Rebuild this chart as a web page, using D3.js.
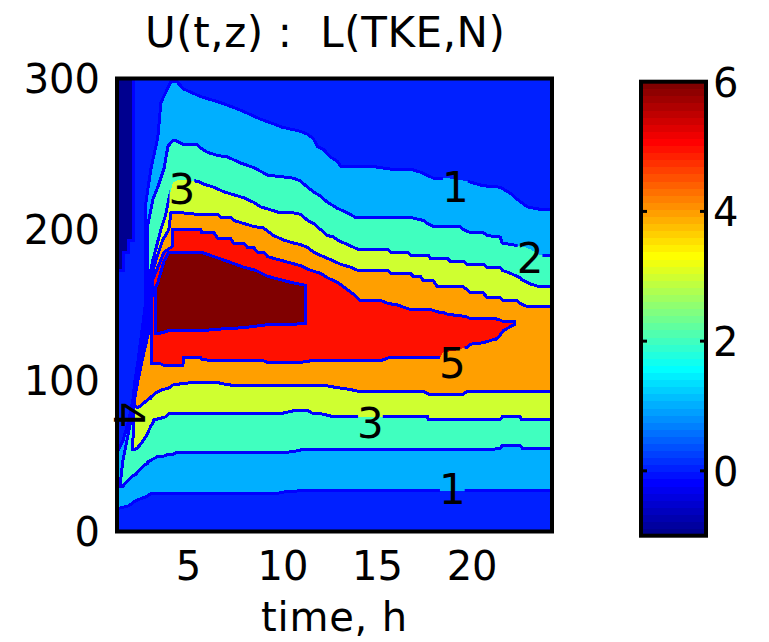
<!DOCTYPE html>
<html>
<head>
<meta charset="utf-8">
<script src="https://cdn.jsdelivr.net/npm/d3@7"></script>
<style>
  html, body { margin: 0; padding: 0; background: #fff; }
  svg { display: block; font-family: "DejaVu Sans", sans-serif; }
  .keep-spaces { white-space: pre; }
</style>
</head>
<body>
<svg id="chart" width="769" height="642"></svg>
<script>
// Contour levels of U (m/s) and the colour limits of the map
const levels = [-1, 0, 1, 2, 3, 4, 5, 6];
const colorLimits = [-1, 6];
const timeRange = [1.25, 24.25];     // hours
const heightRange = [0, 300];        // metres
const xTicks = [5, 10, 15, 20];
const yTicks = [0, 100, 200, 300];
const cbarTicks = [0, 2, 4, 6];

// Region where U >= level, one entry per time: [time h, lower height m, upper height m]
const uAbove0 = [
  [1.25,0,173],[1.62,0,173],[1.62,0,185],[1.88,0,185],[1.88,0,193],[2.14,0,193],
  [2.14,0,300],[24.25,0,300]
];
const uAbove1 = [
  [1.25,15,52],[1.56,16,60],[1.88,17,74],[2.09,19,87],[2.20,20,100],[2.36,21,113],
  [2.57,22,133],[2.78,23,153],[2.78,23,218],[3.04,25,240],[3.41,25,261],[3.57,25,284],
  [4.10,25,298],[4.41,25,298],[4.78,25,293],[5.68,25,288],[6.74,25,284],[7.79,25,279],
  [8.85,25,273],[9.74,25,269],[9.90,26,268],[10.96,27,265],[11.33,27,263],[11.64,27,260],
  [11.85,27,255],[12.17,27,253],[12.54,27,248],[12.91,27,245],[13.07,27,242],[14.65,27,242],
  [15.71,27,240],[16.76,27,240],[17.29,27,238],[17.98,27,234],[18.71,27,234],[19.77,27,232],
  [20.61,27,229],[21.51,27,228],[22.04,27,224],[22.41,27,220],[22.94,27,215],[23.78,27,213],
  [24.25,27,213]
];
const uAbove2 = [
  [1.46,30,36],[1.56,30,47],[1.77,33,60],[1.99,36,74],[2.12,37,87],[2.25,38,100],
  [2.46,41,113],[2.72,44,133],[2.86,45,153],[2.88,46,203],[3.15,48,220],[3.46,50,230],
  [3.73,50,240],[3.94,51,255],[4.20,51,259],[4.36,52,259],[4.78,52,256],[5.52,52,256],
  [5.68,52,254],[6.05,52,251],[6.58,52,249],[7.10,52,248],[7.79,52,244],[8.48,52,241],
  [9.22,52,236],[9.90,52,235],[10.59,53,234],[10.96,54,232],[11.33,54,228],[11.64,54,225],
  [12.01,54,222],[12.38,54,218],[12.91,54,214],[13.44,54,211],[13.86,54,208],[16.76,54,208],
  [17.45,54,206],[17.66,54,204],[17.98,54,202],[19.40,54,202],[19.56,54,200],[19.93,54,198],
  [20.61,54,198],[20.82,54,196],[21.51,55,195],[21.62,57,191],[22.57,57,189],[22.68,55,189],
  [23.09,55,187],[23.62,55,183],[24.25,55,183]
];
const uAbove3 = [
  [2.09,54,60],[2.14,54,74],[2.14,54,87],[2.30,55,100],[2.51,58,113],[2.83,64,133],
  [2.94,67,153],[2.94,67,167],[3.04,70,173],[3.15,72,180],[3.20,74,182],[3.57,75,200],
  [3.83,76,210],[3.99,78,220],[4.20,78,231],[4.52,78,233],[5.52,78,232],[5.84,78,230],
  [6.37,78,228],[6.89,78,225],[7.42,78,223],[7.95,78,221],[8.48,78,218],[8.85,78,215],
  [9.37,78,213],[9.90,78,211],[10.59,80,211],[10.96,80,210],[11.33,80,206],[11.64,78,204],
  [12.01,78,200],[12.38,77,196],[12.70,76,195],[12.91,76,193],[13.44,76,190],[13.97,76,187],
  [15.55,76,187],[15.71,76,185],[16.60,76,185],[16.76,76,183],[17.66,76,183],[17.71,74,183],
  [17.82,74,181],[18.71,74,181],[18.87,74,179],[19.56,74,179],[19.77,74,177],[20.61,74,177],
  [20.82,74,175],[21.51,74,175],[21.62,76,173],[22.04,76,171],[22.41,76,169],[22.57,76,168],
  [22.62,74,167],[23.09,74,164],[23.62,74,162],[24.25,74,162]
];
const uAbove4 = [
  [2.17,83,87],[2.36,82,100],[2.57,84,113],[2.94,88,133],[3.02,88,153],[3.04,89,167],
  [3.31,92,180],[3.67,94,193],[3.99,95,200],[4.10,96,211],[4.20,97,211],[4.73,98,211],
  [5.52,99,210],[6.58,99,210],[6.74,98,208],[7.26,97,208],[7.42,97,206],[7.95,97,204],
  [8.48,97,202],[9.00,97,201],[9.53,97,196],[10.06,97,193],[10.59,97,191],[10.96,97,190],
  [11.33,97,188],[11.64,97,185],[12.17,97,182],[12.54,96,180],[13.07,95,177],[13.60,94,175],
  [13.97,93,173],[15.55,93,173],[15.71,93,171],[16.76,93,171],[16.92,93,169],[17.29,93,169],
  [17.45,93,166],[17.71,91,166],[17.98,91,166],[18.19,91,162],[19.56,91,162],[19.77,93,160],
  [19.93,93,158],[20.61,93,158],[20.82,93,155],[21.51,93,155],[21.67,93,153],[22.41,93,153],
  [22.57,93,151],[22.94,93,149],[24.25,93,149]
];
const uAbove5 = [
  [3.09,111,153],[3.15,111,167],[3.57,111,180],[3.73,110,185],[4.20,110,189],[4.20,110,200],
  [4.73,110,200],[4.78,115,200],[5.68,115,200],[5.73,114,198],[6.37,113,198],[6.58,113,194],
  [7.26,113,194],[7.42,113,191],[7.95,113,191],[8.16,113,188],[8.48,113,188],[8.69,113,185],
  [9.00,113,185],[9.22,112,182],[10.96,112,176],[11.48,113,173],[12.01,113,171],[12.38,113,168],
  [12.91,113,165],[13.44,113,160],[13.76,113,157],[14.12,113,153],[15.18,113,153],[15.60,115,151],
  [16.08,115,150],[16.76,115,147],[17.82,115,147],[18.34,115,145],[18.50,119,145],[18.71,119,144],
  [19.24,120,143],[19.40,121,143],[19.77,122,142],[19.93,124,141],[20.61,125,141],[21.14,127,141],
  [21.25,127,141],[21.51,130,140],[21.67,133,139],[22.25,137,139]
];
const uAbove6 = [
  [3.31,131,162],[3.41,131,165],[3.73,132,179],[3.99,133,185],[4.20,133,185],[5.68,133,185],
  [6.63,134,181],[7.95,135,175],[8.58,136,173],[9.22,137,169],[10.43,137,165],[11.22,138,163]
];

// Inline contour labels: [time h, height m, text, rotation deg]
const contourLabels = [
  [19.14, 228, "1", 0],
  [23.09, 181, "2", 0],
  [4.68, 227, "3", 0],
  [18.98, 112, "5", 0],
  [14.65, 72, "3", 0],
  [18.98, 28, "1", 0],
  [1.90, 77, "4", 90]
];

// ---- jet colormap, 64 entries ----
function jet64() {
  const n = 64, m = 16, u = [];
  for (let i = 1; i <= m; i++) u.push(i / m);
  for (let i = 0; i < m - 1; i++) u.push(1);
  for (let i = m; i >= 1; i--) u.push(i / m);
  const r = new Array(n).fill(0), g = new Array(n).fill(0), b = new Array(n).fill(0);
  u.forEach((v, j) => {
    const gi = 8 + j;
    if (gi < n) g[gi] = v;
    if (gi + m < n) r[gi + m] = v;
    if (gi - m >= 0 && gi - m < n) b[gi - m] = v;
  });
  return d3.range(n).map(i => d3.rgb(r[i] * 255, g[i] * 255, b[i] * 255).formatHex());
}
const jet = jet64();
const colorFor = v => {
  const t = (v - colorLimits[0]) / (colorLimits[1] - colorLimits[0]);
  return jet[Math.max(0, Math.min(63, Math.floor(t * 64)))];
};

const svg = d3.select("#chart");
const x = d3.scaleLinear().domain(timeRange).range([117, 552]);
const y = d3.scaleLinear().domain(heightRange).range([531.5, 78.5]);

const defs = svg.append("defs");
defs.append("clipPath").attr("id", "plotClip")
  .append("rect")
  .attr("x", x(timeRange[0])).attr("y", y(heightRange[1]))
  .attr("width", x(timeRange[1]) - x(timeRange[0]))
  .attr("height", y(heightRange[0]) - y(heightRange[1]));

const plot = svg.append("g").attr("clip-path", "url(#plotClip)");

// lowest band (U < 0)
plot.append("rect")
  .attr("x", x(timeRange[0])).attr("y", y(heightRange[1]))
  .attr("width", x(timeRange[1]) - x(timeRange[0]))
  .attr("height", y(heightRange[0]) - y(heightRange[1]))
  .attr("fill", colorFor(levels[0]));

const regions = [uAbove0, uAbove1, uAbove2, uAbove3, uAbove4, uAbove5, uAbove6];
const area = d3.area()
  .x(d => x(d[0]))
  .y0(d => y(d[1]))
  .y1(d => y(d[2]));

plot.selectAll("path.band")
  .data(regions)
  .join("path")
  .attr("class", "band")
  .attr("d", d => area(d))
  .attr("fill", (d, i) => colorFor(levels[i + 1]))
  .attr("shape-rendering", "crispEdges");

// contour labels
const labelG = svg.append("g")
  .attr("font-size", 42)
  .attr("fill", "#000");
const labelNodes = labelG.selectAll("text")
  .data(contourLabels)
  .join("text")
  .attr("transform", d => `translate(${x(d[0])},${y(d[1])}) rotate(${d[3]})`)
  .attr("text-anchor", "middle")
  .attr("dy", "0.36em")
  .text(d => d[2]);

// gaps in the contour lines behind the labels
const mask = defs.append("mask").attr("id", "labelGaps")
  .attr("maskUnits", "userSpaceOnUse")
  .attr("x", 0).attr("y", 0).attr("width", 769).attr("height", 642);
mask.append("rect").attr("x", 0).attr("y", 0).attr("width", 769).attr("height", 642).attr("fill", "#fff");
labelNodes.each(function (d) {
  if (d[3] !== 0) return;
  const w = this.getComputedTextLength();
  mask.append("rect")
    .attr("x", x(d[0]) - w / 2 + 1)
    .attr("y", y(d[1]) - 16)
    .attr("width", w - 2)
    .attr("height", 32)
    .attr("fill", "#000");
});

// contour lines
const lines = svg.insert("g", () => labelG.node())
  .attr("clip-path", "url(#plotClip)")
  .append("g")
  .attr("mask", "url(#labelGaps)");
lines.selectAll("path")
  .data(regions)
  .join("path")
  .attr("d", d => area(d))
  .attr("fill", "none")
  .attr("stroke", "#0000ff")
  .attr("stroke-width", 3)
  .attr("stroke-linejoin", "miter")
  .attr("shape-rendering", "crispEdges");

// axes frame
svg.append("rect")
  .attr("x", x(timeRange[0])).attr("y", y(heightRange[1]))
  .attr("width", x(timeRange[1]) - x(timeRange[0]))
  .attr("height", y(heightRange[0]) - y(heightRange[1]))
  .attr("fill", "none").attr("stroke", "#000").attr("stroke-width", 4);

// tick labels
const xAxis = svg.append("g")
  .attr("transform", `translate(0,${y(heightRange[0])})`)
  .call(d3.axisBottom(x).tickValues(xTicks).tickSize(0).tickPadding(20).tickFormat(d3.format("d")));
const yAxis = svg.append("g")
  .attr("transform", `translate(${x(timeRange[0])},0)`)
  .call(d3.axisLeft(y).tickValues(yTicks).tickSize(0).tickPadding(17).tickFormat(d3.format("d")));
[xAxis, yAxis].forEach(a => {
  a.select(".domain").remove();
  a.selectAll("text").attr("font-size", 40).attr("font-family", "DejaVu Sans, sans-serif").attr("fill", "#000");
});
yAxis.selectAll("text").attr("dy", "0.36em");

// title and axis label
svg.append("text")
  .attr("class", "keep-spaces")
  .attr("x", 325).attr("y", 47)
  .attr("text-anchor", "middle")
  .attr("font-size", 42)
  .attr("textLength", 360).attr("lengthAdjust", "spacing")
  .text("U(t,z) :  L(TKE,N)");
svg.append("text")
  .attr("x", 334).attr("y", 631)
  .attr("text-anchor", "middle")
  .attr("font-size", 40)
  .attr("textLength", 146).attr("lengthAdjust", "spacing")
  .text("time, h");

// ---- colour bar ----
const cb = { x0: 641, x1: 706 };
const cScale = d3.scaleLinear().domain(colorLimits).range([535.7, 81.7]);
const step = (colorLimits[1] - colorLimits[0]) / jet.length;
svg.append("g").selectAll("rect")
  .data(jet)
  .join("rect")
  .attr("x", cb.x0)
  .attr("width", cb.x1 - cb.x0)
  .attr("y", (d, i) => cScale(colorLimits[0] + (i + 1) * step))
  .attr("height", (d, i) => cScale(colorLimits[0] + i * step) - cScale(colorLimits[0] + (i + 1) * step) + 0.5)
  .attr("fill", d => d)
  .attr("shape-rendering", "crispEdges");
svg.append("g").selectAll("line")
  .data(cbarTicks.filter(v => v < colorLimits[1]).flatMap(v => [[v, cb.x0, cb.x0 + 6], [v, cb.x1, cb.x1 - 6]]))
  .join("line")
  .attr("x1", d => d[1]).attr("x2", d => d[2])
  .attr("y1", d => cScale(d[0])).attr("y2", d => cScale(d[0]))
  .attr("stroke", "#000").attr("stroke-width", 3);
svg.append("rect")
  .attr("x", cb.x0).attr("y", cScale(colorLimits[1]))
  .attr("width", cb.x1 - cb.x0)
  .attr("height", cScale(colorLimits[0]) - cScale(colorLimits[1]))
  .attr("fill", "none").attr("stroke", "#000").attr("stroke-width", 4);
const cAxis = svg.append("g")
  .attr("transform", `translate(${cb.x1},0)`)
  .call(d3.axisRight(cScale).tickValues(cbarTicks).tickSize(0).tickPadding(7).tickFormat(d3.format("d")));
cAxis.select(".domain").remove();
cAxis.selectAll("text").attr("font-size", 40).attr("font-family", "DejaVu Sans, sans-serif")
  .attr("fill", "#000").attr("dy", "0.36em");
</script>
</body>
</html>
